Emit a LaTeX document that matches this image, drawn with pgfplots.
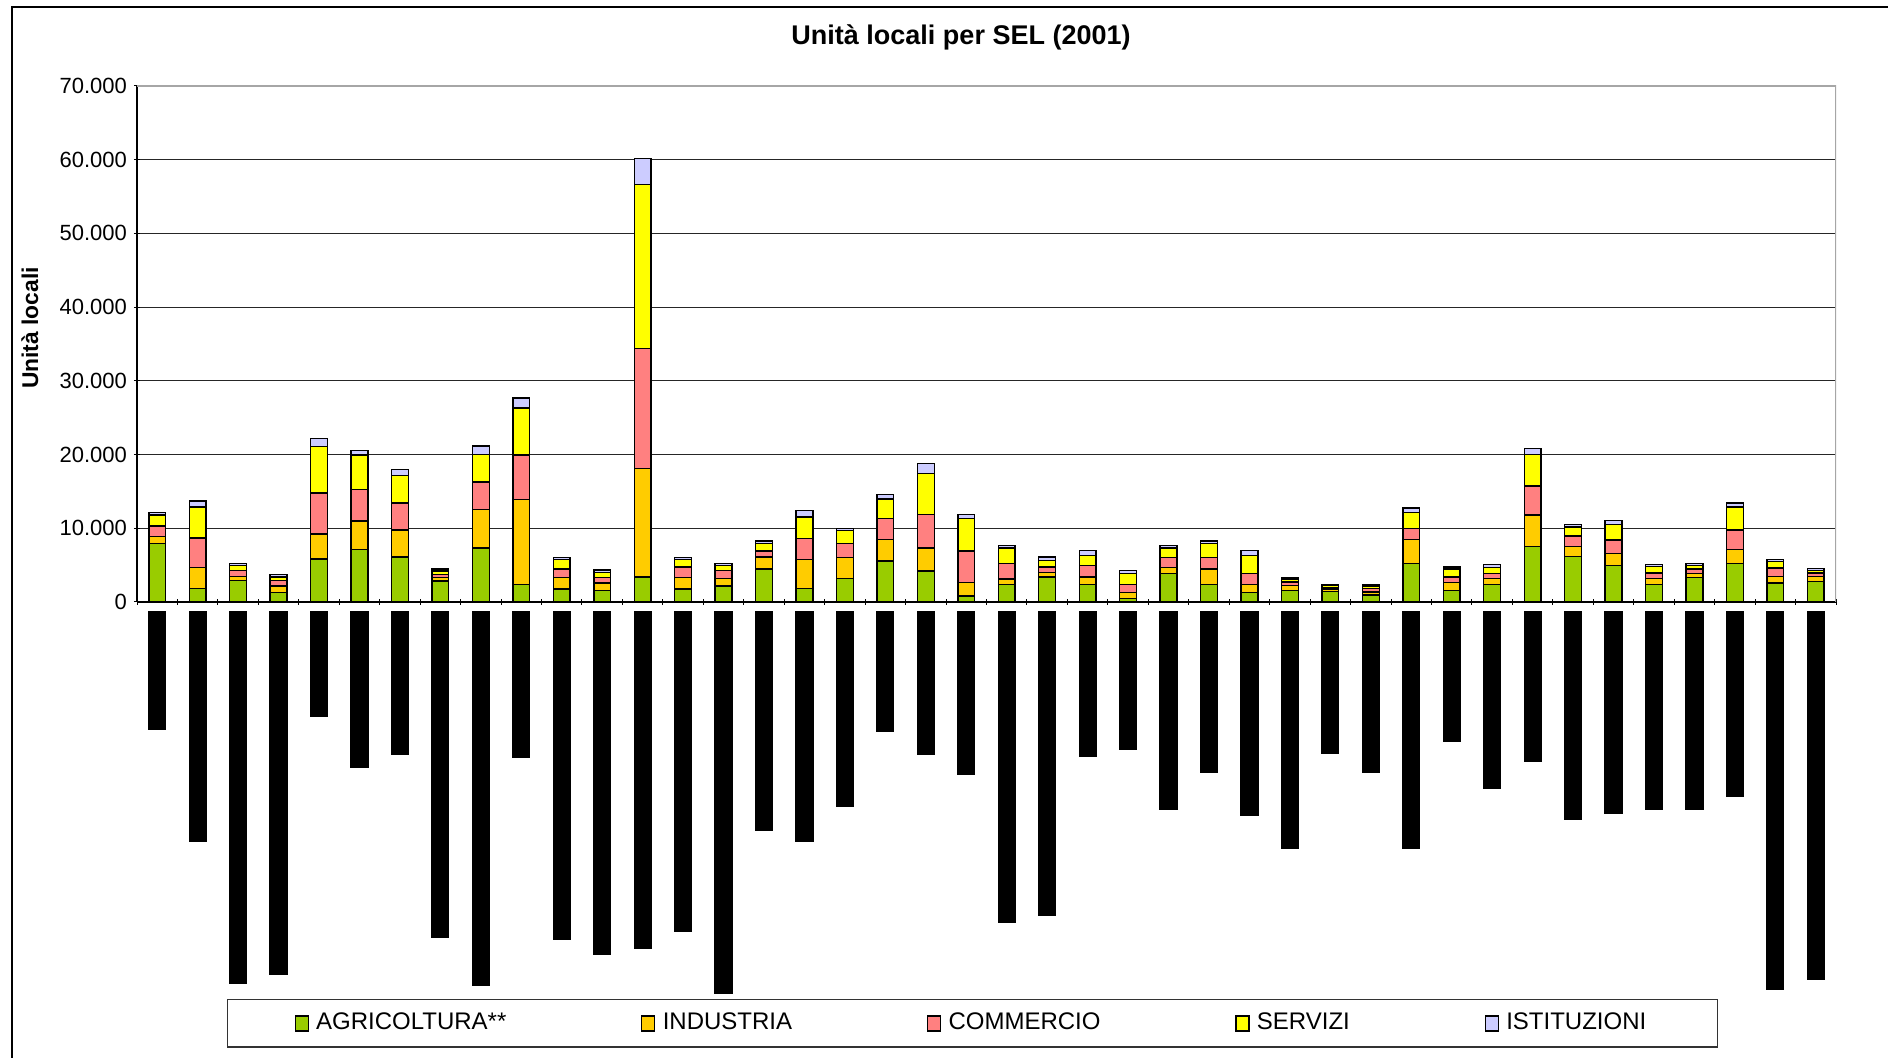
\documentclass[border=0pt]{standalone}
\usepackage{fontspec}
\setmainfont{Liberation Sans}
\usepackage{pgfplots}
\usepackage{pgfplotstable}
\pgfplotsset{compat=1.18}

\definecolor{agri}{HTML}{99CC00}
\definecolor{indu}{HTML}{FFCC00}
\definecolor{comm}{HTML}{FF8080}
\definecolor{serv}{HTML}{FFFF00}
\definecolor{isti}{HTML}{CCCCFF}

% n = SEL, five sectors, lab = length of the black label bars below (px)
\pgfplotstableread{
n  agr   ind    com    ser    ist   lab
1  7900  1000   1400   1500   350   117
2  1800  2900   4000   4200   800   229
3  2900  550    800    700    250   371
4  1300  850    800    450    300   362
5  5850  3350   5600   6300   1100  104
6  7100  3900   4250   4700   600   155
7  6100  3650   3700   3700   800   142
8  2850  450    400    500    300   325
9  7350  5200   3750   3700   1150  373
10 2350  11550  6050   6350   1350  145
11 1750  1600   1150   1250   300   327
12 1550  1000   800    650    350   342
13 3400  14750  16200  22250  3600  336
14 1750  1600   1400   1000   300   319
15 2150  1050   1050   700    300   381
16 4500  1600   800    1000   350   218
17 1800  4000   2850   2900   850   229
18 3150  2900   1850   1800   300   194
19 5550  2900   2850   2650   600   119
20 4200  3150   4500   5550   1350  142
21 800   1850   4250   4400   600   162
22 2350  750    2100   2150   350   310
23 3400  600    750    850    500   303
24 2350  1050   1550   1350   650   144
25 500   800    1100   1500   350   137
26 3900  800    1350   1300   350   197
27 2350  2150   1550   1850   350   160
28 1250  1100   1550   2400   650   203
29 1550  650    500    350    200   236
30 1450  300    200    250    200   141
31 950   400    450    350    250   160
32 5200  3250   1550   2100   650   236
33 1550  1100   750    1100   250   129
34 2350  800    750    800    350   176
35 7550  4250   3950   4250   850   149
36 6200  1350   1400   1250   350   207
37 4950  1600   1850   2100   550   201
38 2350  800    800    900    200   197
39 3350  550    600    450    300   197
40 5200  1900   2650   3150   550   184
41 2550  900    1150   900    300   377
42 2800  650    500    350    250   367
}\data

\pgfplotsset{
  sq/.style={legend image code/.code={
    \draw[##1, line width=0.6pt] (0pt,-4pt) rectangle (6.5pt,3.5pt);
    \path[draw=none, fill=none] (0pt,0pt) -- (8.5pt,0pt);}},
}

\begin{document}
\begin{tikzpicture}[x=1pt,y=1pt]
\useasboundingbox (0,0) rectangle (944,529);
\draw[line width=0.6pt] (6,-5) -- (6,525.5) -- (950,525.5);

\begin{axis}[
    at={(68.5pt,228pt)}, anchor=south west,
    width=849.5pt, height=258pt, scale only axis,
    ybar stacked, bar width=8.4pt,
    xmin=0.5, xmax=42.5, ymin=0, ymax=70000,
    xtick={0.5,1.5,...,42.5}, xticklabel={\relax},
    ytick={0,10000,...,70000},
    scaled y ticks=false,
    yticklabel style={font=\fontsize{11}{13}\selectfont,
        /pgf/number format/.cd, fixed, 1000 sep={.}, assume math mode=true},
    tick align=outside, major tick length=3pt,
    tick style={black, line width=0.5pt},
    axis lines=left, axis line style={-, black, line width=0.6pt},
    ymajorgrids, grid style={black!85, line width=0.5pt},
    title={Unità locali per SEL (2001)},
    title style={at={(0.485,1.071)}, anchor=center,
        font=\bfseries\fontsize{13.5}{16}\selectfont},
    ylabel={Unità locali},
    ylabel style={at={(-0.063,0.531)}, anchor=center,
        font=\bfseries\fontsize{11.4}{13}\selectfont},
    legend columns=5,
    legend style={at={(0.4917,-0.816)}, anchor=center,
        draw=black!80, line width=0.6pt,
        font=\fontsize{12}{14}\selectfont,
        inner xsep=33.5pt, inner ysep=5pt,
        /tikz/every even column/.append style={column sep=65.4pt}},
]
\addplot[fill=agri, draw=black, line width=0.7pt, sq] table[x=n, y=agr] {\data};
\addplot[fill=indu, draw=black, line width=0.7pt, sq] table[x=n, y=ind] {\data};
\addplot[fill=comm, draw=black, line width=0.7pt, sq] table[x=n, y=com] {\data};
\addplot[fill=serv, draw=black, line width=0.7pt, sq] table[x=n, y=ser] {\data};
\addplot[fill=isti, draw=black, line width=0.7pt, sq] table[x=n, y=ist] {\data};
\legend{AGRICOLTURA**, INDUSTRIA, COMMERCIO, SERVIZI, ISTITUZIONI}
\draw[gray!70, line width=0.8pt] (rel axis cs:0,1) -- (rel axis cs:1,1) -- (rel axis cs:1,0);
\end{axis}

\begin{axis}[
    at={(68.5pt,223pt)}, anchor=north west,
    width=849.5pt, height=200pt, scale only axis,
    xmin=0.5, xmax=42.5, ymin=-400, ymax=0,
    axis lines=none, ybar, bar width=8.4pt,
]
\addplot[fill=black, draw=black, line width=0.7pt] table[x=n, y expr=-\thisrow{lab}] {\data};
\end{axis}
\end{tikzpicture}
\end{document}
